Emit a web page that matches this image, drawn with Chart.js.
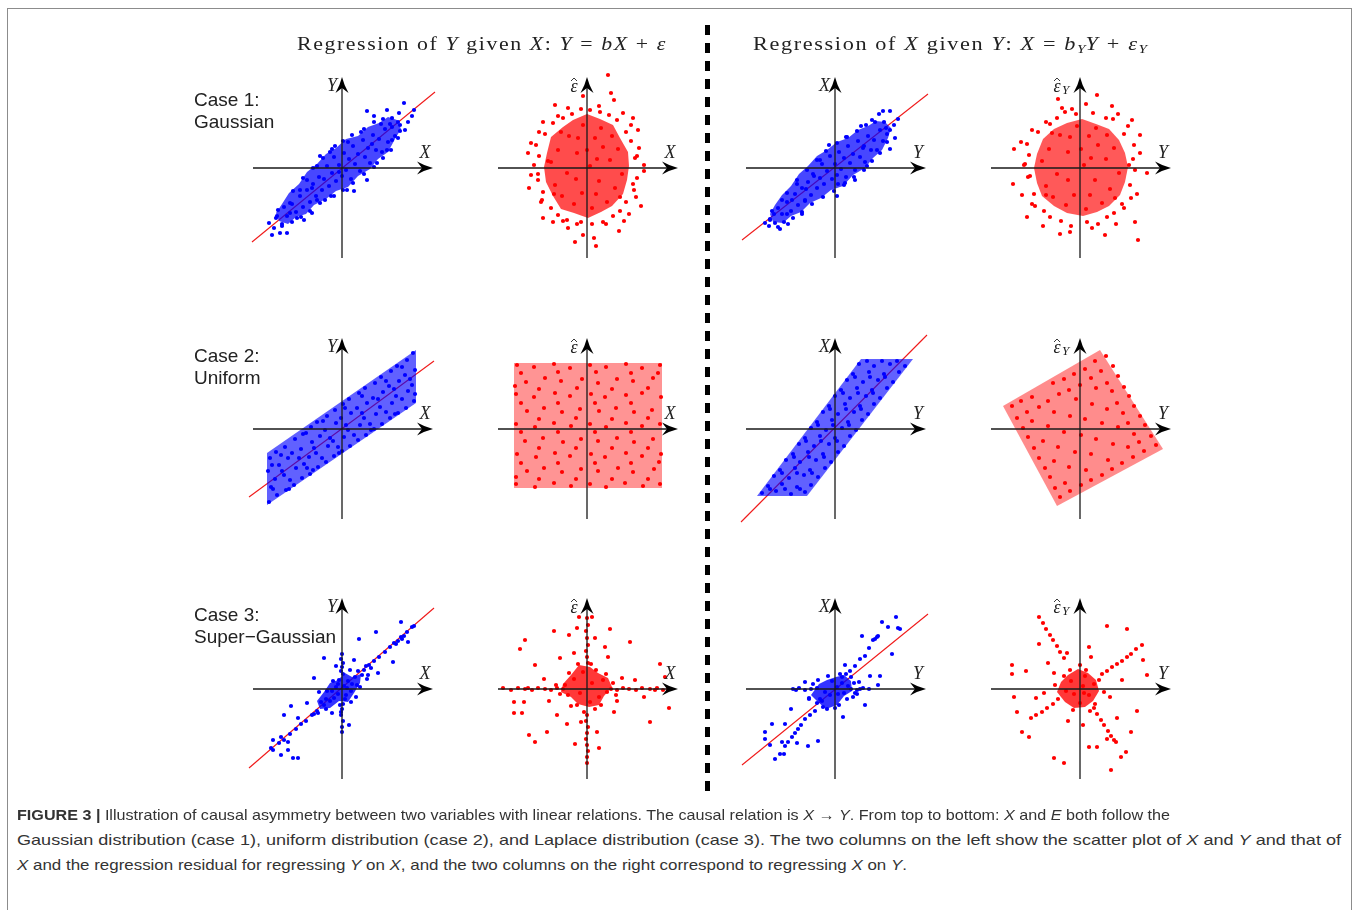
<!DOCTYPE html>
<html>
<head>
<meta charset="utf-8">
<script src="https://cdn.jsdelivr.net/npm/chart.js@4.4.1/dist/chart.umd.min.js"></script>
<style>
  body { margin:0; width:1358px; height:910px; overflow:hidden; background:#fff; position:relative; font-family:"Liberation Sans", Arial, sans-serif; }
  #frame { position:absolute; left:7px; top:8px; width:1343px; height:930px; border:1.5px solid #8c8c8c; border-bottom:none; }
  .panel { position:absolute; width:240px; height:240px; }
  .case { position:absolute; left:194px; font-size:19px; line-height:22px; color:#222; white-space:pre; }
  .title { position:absolute; top:34px; font-family:"Liberation Serif", serif; font-size:19px; line-height:19px; letter-spacing:1.4px; color:#222; white-space:nowrap; transform-origin:left top; }
  .title sub { font-size:13px; line-height:0; vertical-align:-3px; letter-spacing:0; }
  .cap { position:absolute; left:17px; font-size:15px; line-height:15px; color:#333; white-space:nowrap; transform-origin:left top; }
  #divider { position:absolute; left:705px; top:25px; width:4.5px; height:768px;
    background:repeating-linear-gradient(to bottom, #000 0px, #000 10px, transparent 10px, transparent 18px); }
</style>
</head>
<body>
<div id="frame"></div>
<div id="divider"></div>

<script>
// ---- data (units: each axis runs from -9 to 9) ----
const caseLabels = ['Case 1:\nGaussian', 'Case 2:\nUniform', 'Case 3:\nSuper\u2212Gaussian'];
const columnTitles = [
  'Regression of <i>Y</i> given <i>X</i>: <i>Y</i> = <i>bX</i> + <i>\u03b5</i>',
  'Regression of <i>X</i> given <i>Y</i>: <i>X</i> = <i>b<sub>Y</sub>Y</i> + <i>\u03b5<sub>Y</sub></i>'
];
const xAxisNames = ['X', 'X', 'Y', 'Y'];
const yAxisNames = ['Y', 'eps', 'X', 'epsY'];

// case 1: Gaussian
const gaussYX = [[-5.5,-4.8],[-5.0,-3.6],[-4.6,-4.4],[-4.2,-2.8],[-3.9,-3.9],[-3.5,-2.2],[-3.2,-3.4],[-2.9,-1.6],[-2.6,-2.8],[-2.3,-0.9],[-2.0,-2.2],[-1.8,-1.1],[-1.5,0.2],[-1.3,-1.8],[-1.0,-0.5],[-0.8,1.1],[-0.6,-1.3],[-0.3,0.3],[0.0,-0.8],[0.2,1.5],[0.4,-0.2],[0.7,0.9],[0.9,-1.1],[1.1,2.2],[1.3,0.4],[1.6,1.4],[1.8,-0.3],[2.1,2.8],[2.3,1.1],[2.6,2.0],[2.8,0.5],[3.1,3.3],[3.4,1.8],[3.7,2.9],[4.0,1.6],[4.3,3.9],[4.6,2.6],[5.0,4.1],[5.3,3.2],[5.6,4.6],
  [-6.6,-5.0],[-5.8,-3.9],[-4.9,-2.3],[-3.9,-1.0],[-2.9,0.0],[-1.9,1.0],[-1.0,1.9],[0.1,2.7],[1.0,3.3],[2.2,3.9],[3.2,4.6],[4.1,4.9],[5.0,5.0],[5.8,4.3],[5.6,3.0],[4.9,1.8],[4.1,1.0],[3.2,0.1],[2.2,-0.6],[1.1,-1.5],[0.1,-2.2],[-1.1,-2.8],[-2.2,-3.5],[-3.2,-4.3],[-4.1,-4.9],[-5.0,-5.4],[-6.0,-5.6],[-6.4,-4.2],[4.8,4.4],[3.0,2.4],[-3.0,-2.0],[-0.3,-0.4],
  [6.2,6.5],[7.2,5.8],[7.0,5.2],[4.5,5.8],[2.5,5.7],[3.2,5.2],[5.7,5.5],[6.3,3.8],[5.8,3.7],[5.0,2.8],[4.5,1.8],[3.5,0.5],[2.5,-1.2],[1.2,-2.3],[0.5,-2.2],[-0.7,2.2],[-7.0,-6.7],[-6.2,-6.5],[-5.5,-6.5],[-7.3,-5.5],[-6.5,-4.8],[-5.2,-4.5],[-4.5,-5.0],[-3.8,-5.2],[-3.0,-4.5],[-5.2,-3.5],[-4.2,-2.2],[-3.5,-1.2],[-2.5,-3.2],[-1.7,-3.2],[-0.8,-2.8],[-2.5,0.2],[-2.2,1.2],[-6.0,-5.8],[-6.8,-6.0],[1.9,3.6],[0.6,2.6],[-1.2,1.6],[3.9,4.4],[6.6,4.6]];
const gaussYXCore = [[-6.3,-5.3],[-5.4,-5.6],[-4.6,-4.9],[-3.6,-4.6],[-2.8,-3.7],[-1.6,-3.1],[-0.6,-2.3],[0.6,-1.9],[1.6,-0.8],[2.8,-0.1],[3.6,0.9],[4.6,1.6],[5.3,2.9],[5.9,3.9],[5.5,4.8],[4.6,5.1],[3.7,4.5],[2.6,4.1],[1.6,3.2],[0.4,2.9],[-0.6,2.0],[-1.6,1.4],[-2.5,0.4],[-3.5,-0.4],[-4.3,-1.6],[-5.3,-2.5],[-6.0,-3.6],[-6.6,-4.5]];
const gaussYXFit = [[-9,-7.4],[9.3,7.6]];

const gaussResX = [[0.3,0.2],[-1.0,1.5],[1.2,-1.3],[-2.0,-0.5],[2.3,0.8],[-0.5,-2.5],[0.8,3.0],[-1.8,3.2],[2.8,-2.0],[-2.9,1.8],[1.6,2.1],[-1.3,-3.6],[3.1,1.9],[-3.2,-1.7],[0.5,-4.0],[-0.4,4.3],[2.0,-3.4],[-2.5,-2.8],[1.4,4.0],[3.5,-0.6],[-3.6,0.6],[0.0,1.8],[-1.1,-1.1],[1.0,0.9],[-0.9,3.0],[2.5,3.2],[-2.6,3.6],[3.3,-2.9],[-3.3,-2.6],[0.9,-2.6],
  [4.8,1.0],[4.6,-1.6],[3.9,3.6],[2.2,5.3],[-0.6,5.9],[-2.4,5.0],[-4.2,3.4],[-4.8,1.2],[-4.9,-0.6],[-4.4,-2.4],[-3.6,-4.0],[-2.0,-5.2],[0.5,-5.6],[2.6,-4.8],[3.9,-3.4],[5.0,-1.0],[5.2,2.0],[4.4,4.3],[1.3,5.6],[-1.5,5.4],[-3.4,4.5],[-5.3,0.3],[-4.6,-3.4],[-1.0,-5.6],[1.6,-5.4],[3.3,-4.3],[4.9,-2.9],[-2.9,-4.7],[3.0,4.8],[-5.1,2.3],
  [2.1,9.3],[2.4,7.5],[-0.4,7.2],[-2.9,5.2],[-5.6,2.5],[-5.9,1.5],[-5.6,-0.7],[-5.8,-2.0],[-4.4,-5.0],[-1.9,-6.0],[-0.4,-6.7],[0.9,-7.8],[0.7,-7.0],[3.2,-6.3],[3.7,-5.3],[5.4,-3.8],[5.7,0.3],[5.7,-0.3],[5.1,3.8],[4.4,2.7],[3.6,5.5],[2.7,6.8],[-1.9,6.0],[-3.9,0.7],[-4.8,3.6],[-4.5,-3.2],[4.7,-2.2],[-3.4,-5.4],[1.9,-5.6],[4.6,5.0],[-1.2,-7.4],[-4.9,-1.2],[5.0,1.2],[-3.2,6.3],[1.2,6.2],[-4.4,4.6],[4.2,-4.6],[0.3,5.8],[-2.4,-5.3],[-0.6,-5.4]];
const gaussResXCore = [[4.2,0.2],[4.1,1.6],[3.3,3.0],[2.6,4.3],[1.3,4.9],[0,5.4],[-1.4,4.8],[-2.4,4.1],[-3.6,3.1],[-4.0,1.5],[-4.3,0.1],[-4.1,-1.4],[-3.4,-2.8],[-2.6,-4.1],[-1.3,-4.5],[0.1,-5.0],[1.4,-4.4],[2.5,-3.8],[3.6,-2.6],[4.0,-1.2]];

const gaussXY = [[-5.3,-4.6],[-4.8,-3.4],[-4.4,-4.3],[-4.0,-2.6],[-3.7,-3.7],[-3.3,-2.0],[-3.0,-3.3],[-2.7,-1.4],[-2.4,-2.7],[-2.1,-0.8],[-1.8,-2.0],[-1.5,-1.0],[-1.3,0.4],[-1.1,-1.6],[-0.8,-0.3],[-0.5,1.2],[-0.3,-1.1],[0.0,0.4],[0.2,-0.7],[0.4,1.6],[0.6,-0.1],[0.9,1.0],[1.1,-0.9],[1.3,2.2],[1.5,0.5],[1.8,1.4],[2.0,-0.2],[2.3,2.7],[2.5,1.1],[2.8,2.0],[3.0,0.6],[3.3,3.2],[3.6,1.8],[3.9,2.8],[4.2,1.8],[4.5,3.8],[4.8,2.7],[5.1,4.0],
  [-6.5,-5.1],[-5.7,-4.0],[-4.8,-2.5],[-3.8,-1.2],[-2.8,-0.2],[-1.8,0.8],[-0.9,1.7],[0.2,2.5],[1.1,3.1],[2.2,3.7],[3.1,4.3],[4.0,4.6],[4.9,4.6],[5.5,3.8],[5.2,2.6],[4.5,1.5],[3.7,0.7],[2.9,-0.2],[1.9,-0.9],[0.9,-1.7],[-0.1,-2.3],[-1.2,-2.9],[-2.3,-3.6],[-3.3,-4.4],[-4.2,-5.0],[-5.1,-5.4],[-6.0,-5.5],[-6.3,-4.3],[2.9,2.2],[-2.9,-2.1],
  [4.8,5.7],[5.5,5.7],[6.3,4.9],[5.5,1.9],[3.7,4.8],[0.3,-1.6],[-5.7,-5.9],[-6.5,-5.2],[-5.5,-6.1],[-4.7,-5.6],[-4.8,-4.6],[-5.3,-3.2],[-4.3,-3.2],[-3.3,-4.6],[-3.0,-3.2],[-6.6,-5.8],[-7.0,-5.5],[-2.2,-0.6],[-1.5,0.8],[2.0,-1.2],[3.2,0.2],[1.0,-1.5],[4.4,5.4],[2.6,4.2],[0.2,-2.8],[5.9,4.3],[5.2,3.4],[-6.1,-4.6],[-3.8,-1.6],[1.2,3.1],[-0.6,2.3],[6.0,3.0]];
const gaussXYCore = [[-6.2,-5.4],[-5.2,-5.5],[-4.4,-4.8],[-3.4,-4.4],[-2.5,-3.5],[-1.4,-3.0],[-0.4,-2.2],[0.8,-1.8],[1.8,-0.7],[3.0,0.0],[3.8,1.0],[4.7,1.8],[5.3,3.0],[5.6,4.0],[5.0,4.6],[4.1,4.7],[3.3,4.2],[2.3,3.8],[1.3,3.0],[0.2,2.6],[-0.8,1.8],[-1.8,1.2],[-2.7,0.2],[-3.6,-0.6],[-4.4,-1.8],[-5.3,-2.7],[-6.0,-3.7],[-6.5,-4.6]];
const gaussXYFit = [[-9.3,-7.2],[9.3,7.4]];

const gaussResY = [[0.4,0.3],[-1.2,1.6],[1.5,-1.2],[-2.3,-0.6],[2.6,0.9],[-0.6,-2.7],[0.9,3.2],[-2.0,3.3],[3.0,-2.1],[-3.1,1.9],[1.8,2.3],[-1.4,-3.7],[3.4,2.0],[-3.4,-1.8],[0.6,-4.1],[-0.3,4.2],[2.2,-3.5],[-2.7,-2.9],[1.6,4.0],[3.9,-0.5],[-3.8,0.7],[0.1,1.9],[-1.2,-1.2],[1.1,1.0],[-1.0,3.1],[2.7,3.3],[-2.8,3.5],[3.5,-3.0],[-3.4,-2.7],[1.0,-2.7],
  [5.3,0.9],[5.0,-1.7],[4.4,3.4],[2.6,5.0],[-0.4,5.4],[-2.3,5.0],[-4.2,3.6],[-5.1,1.3],[-5.2,-0.9],[-4.6,-2.6],[-3.6,-4.3],[-1.9,-5.3],[0.7,-5.4],[2.7,-4.9],[4.2,-3.6],[5.5,-0.2],[5.4,2.3],[4.8,4.2],[1.3,5.5],[-1.5,5.6],[-3.4,4.6],[-5.6,0.3],[-4.8,-3.6],[-0.9,-5.8],[1.8,-5.6],[3.4,-4.5],[5.1,-3.0],[-3.0,-4.9],[3.3,4.9],[-5.3,2.4],
  [-6.6,1.9],[6.7,-0.5],[-2.2,6.9],[1.7,7.3],[-1.0,-6.4],[2.5,-6.7],[5.8,-7.2],[5.5,-5.4],[-5.3,-4.9],[-6.7,-1.6],[-5.8,-2.7],[5.2,4.8],[3.8,5.4],[-0.8,5.9],[-3.0,4.4],[-4.8,3.8],[-5.5,0.4],[6.0,1.5],[5.7,-2.6],[0.6,6.4],[-3.7,-5.8],[1.2,-6.0],[3.6,-5.6],[-2.0,-6.6],[6.0,3.3],[-5.9,2.6],[4.4,-4.0],[-1.8,6.0],[3.2,6.2],[-4.5,-3.8],[4.9,0.3],[-5.0,-0.8]];
const gaussResYCore = [[4.8,0.1],[4.5,1.5],[3.9,2.8],[2.9,3.9],[1.6,4.4],[0.2,4.9],[-1.3,4.5],[-2.6,3.9],[-3.7,2.9],[-4.3,1.4],[-4.6,0],[-4.3,-1.5],[-3.8,-2.8],[-2.6,-3.8],[-1.3,-4.5],[0.3,-4.8],[1.7,-4.4],[2.9,-3.8],[4.0,-2.7],[4.5,-1.4]];

// case 2: uniform
const unifYX = [[-7.3,-7.3],[-7.1,-5.8],[-7.4,-4.2],[-7.2,-2.9],[-6.5,-6.6],[-6.7,-5.0],[-6.3,-3.6],[-6.6,-2.3],[-5.6,-6.1],[-5.8,-4.6],[-5.4,-2.9],[-5.7,-1.8],[-4.8,-5.6],[-4.6,-3.9],[-5.0,-2.4],[-4.7,-1.0],[-4.0,-4.9],[-3.8,-3.5],[-4.1,-2.0],[-3.9,-0.5],[-3.2,-4.5],[-3.3,-2.8],[-3.0,-1.3],[-3.1,0.2],[-2.4,-3.8],[-2.6,-2.4],[-2.2,-0.7],[-2.5,0.7],[-1.6,-3.3],[-1.4,-1.7],[-1.7,-0.1],[-1.5,1.3],[-0.8,-2.7],[-0.9,-1.2],[-0.6,0.6],[-0.7,1.9],[0.0,-2.2],[0.2,-0.8],[-0.1,1.1],[0.1,2.5],[0.8,-1.7],[0.6,-0.1],[0.9,1.6],[0.7,3.0],[1.6,-1.1],[1.8,0.4],[1.5,2.1],[1.7,3.6],[2.4,-0.6],[2.2,1.1],[2.5,2.6],[2.3,4.1],[3.2,0.0],[3.4,1.5],[3.1,3.1],[3.3,4.6],[4.0,0.5],[3.8,2.2],[4.1,3.7],[3.9,5.2],[4.8,1.1],[5.0,2.6],[4.7,4.3],[4.9,5.8],[5.6,1.6],[5.4,3.3],[5.7,4.8],[5.5,6.3],[6.4,2.1],[6.6,3.8],[6.3,5.4],[6.5,6.9],[7.2,2.8],[7.0,4.4],[7.3,5.9],[7.1,7.6],
  [-6.9,-6.0],[-6.0,-4.2],[-5.2,-5.1],[-4.3,-2.9],[-3.5,-3.9],[-2.8,-1.9],[-2.0,-2.9],[-1.2,-0.9],[-0.4,-1.8],[0.4,0.4],[1.2,-0.6],[2.0,1.6],[2.8,0.5],[3.6,3.0],[4.4,1.7],[5.2,4.0],[6.0,3.0],[6.8,5.0],[-7.0,-3.6],[-6.1,-2.6],[-3.6,-0.4],[-1.9,0.8],[0.3,2.1],[2.0,3.3],[4.4,4.8],[6.0,6.2],[-5.3,-6.0],[-2.9,-4.1],[-0.3,-2.4],[2.9,-0.1],[5.3,1.5],[7.3,3.5]];
const unifYXCore = [[-7.5,-7.6],[7.4,2.6],[7.4,7.9],[-7.5,-2.4]];
const unifYXFit = [[-9.3,-6.8],[9.2,6.8]];

const unifResX = [[-7.0,6.4],[-5.3,6.2],[-3.3,6.5],[-1.7,6.1],[0.3,6.4],[1.9,6.2],[3.9,6.5],[5.5,6.1],[7.3,6.4],
  [-6.1,4.7],[-4.2,5.1],[-2.6,4.8],[-0.5,5.0],[1.1,4.6],[3.0,5.0],[4.6,4.8],[6.6,5.1],
  [-7.1,3.5],[-5.3,3.2],[-3.2,3.6],[-1.7,3.3],[0.4,3.5],[1.8,3.2],[3.9,3.4],[5.5,3.6],[7.4,3.2],
  [-6.0,1.8],[-4.3,2.1],[-2.5,1.7],[-0.7,2.0],[1.2,1.8],[2.9,2.1],[4.7,1.7],[6.5,1.9],
  [-7.1,0.5],[-5.2,0.2],[-3.3,0.6],[-1.6,0.3],[0.3,0.5],[1.9,0.2],[3.9,0.6],[5.5,0.3],[7.3,0.5],
  [-6.2,-1.2],[-4.4,-0.9],[-2.4,-1.3],[-0.6,-1.0],[1.1,-1.2],[3.0,-0.9],[4.7,-1.3],[6.6,-1.0],
  [-7.0,-2.5],[-5.1,-2.8],[-3.2,-2.4],[-1.7,-2.7],[0.4,-2.5],[1.8,-2.8],[3.9,-2.4],[5.5,-2.7],[7.4,-2.5],
  [-6.0,-4.2],[-4.3,-3.9],[-2.5,-4.3],[-0.6,-4.0],[1.1,-4.2],[3.1,-3.9],[4.6,-4.3],[6.7,-4.0],
  [-7.1,-5.5],[-5.2,-5.8],[-3.3,-5.4],[-1.6,-5.7],[0.3,-5.5],[1.9,-5.8],[3.8,-5.4],[5.6,-5.7],[7.3,-5.5],
  [-6.6,5.6],[-4.8,4.0],[-2.9,5.7],[-1.0,4.1],[0.9,5.7],[2.5,4.0],[4.4,5.6],[6.1,4.1],[-6.6,2.6],[-4.8,1.0],[-2.9,2.6],[-1.1,1.1],[0.8,2.6],[2.5,1.0],[4.4,2.6],[6.1,1.1],[-6.6,-0.3],[-4.8,-1.9],[-2.9,-0.3],[-1.1,-1.9],[0.8,-0.3],[2.5,-1.9],[4.4,-0.3],[6.1,-1.9],[-6.6,-3.4],[-4.8,-5.0],[-2.9,-3.4],[-1.1,-5.0],[0.8,-3.4],[2.5,-5.0],[4.4,-3.4],[6.1,-5.0],[7.2,-3.3],[-7.1,-4.8],[7.1,5.6],[-7.2,4.3]];
const unifResXCore = [[-7.3,-5.9],[7.5,-5.9],[7.5,6.6],[-7.3,6.6]];

const unifXY = [[-7.3,-6.4],[-5.9,-6.2],[-4.4,-6.5],[-3.0,-6.3],[-6.7,-5.7],[-5.3,-5.5],[-3.8,-5.8],[-2.4,-5.6],[-6.1,-4.7],[-4.6,-4.9],[-3.1,-4.6],[-1.7,-4.8],[-5.5,-4.1],[-4.0,-3.9],[-2.5,-4.1],[-1.0,-3.9],[-4.9,-3.1],[-3.5,-3.3],[-1.9,-3.1],[-0.4,-3.3],[-4.2,-2.5],[-2.7,-2.3],[-1.2,-2.5],[0.3,-2.3],[-3.6,-1.5],[-2.1,-1.7],[-0.6,-1.5],[0.9,-1.7],[-3.0,-0.9],[-1.5,-0.7],[0.0,-0.9],[1.5,-0.7],[-2.4,0.1],[-0.9,-0.1],[0.7,0.1],[2.1,-0.1],[-1.8,0.7],[-0.3,0.9],[1.3,0.7],[2.7,0.9],[-1.2,1.7],[0.3,1.5],[1.9,1.7],[3.3,1.5],[-0.6,2.3],[1.0,2.5],[2.5,2.3],[3.9,2.5],[0.0,3.3],[1.5,3.1],[3.1,3.3],[4.5,3.1],[0.6,3.9],[2.2,4.1],[3.7,3.9],[5.2,4.1],[1.2,4.9],[2.8,4.7],[4.3,4.9],[5.8,4.7],[1.8,5.5],[3.4,5.7],[4.9,5.5],[6.4,5.7],[2.4,6.5],[3.9,6.3],[5.5,6.5],[7.0,6.3],
  [-6.5,-6.0],[-5.0,-6.0],[-3.5,-6.0],[-5.3,-4.4],[-3.8,-4.4],[-2.3,-4.4],[-4.1,-2.8],[-2.6,-2.8],[-1.1,-2.8],[-2.9,-1.2],[-1.4,-1.2],[0.2,-1.2],[-1.7,0.4],[-0.2,0.4],[1.4,0.4],[-0.5,2.0],[1.1,2.0],[2.6,2.0],[0.8,3.6],[2.3,3.6],[3.8,3.6],[2.0,5.2],[3.5,5.2],[5.0,5.2],[3.2,6.8],[4.7,6.8],[6.2,6.8]];
const unifXYCore = [[-7.8,-6.7],[-2.8,-6.7],[7.8,7.0],[2.6,7.0]];
const unifXYFit = [[-9.4,-9.3],[9.2,9.4]];

const unifResY = [[-2.0,-6.8],[0.1,-5.6],[2.2,-4.6],[4.2,-3.4],[6.4,-2.2],[7.6,-1.6],[-3.0,-4.8],[-1.1,-3.8],[1.1,-2.5],[3.3,-1.5],[5.4,-0.5],[6.5,0.4],[-4.1,-2.9],[-2.2,-1.8],[0.1,-0.6],[2.2,0.6],[4.3,1.6],[5.4,2.3],[-5.2,-0.8],[-3.2,0.3],[-1.0,1.3],[1.2,2.5],[3.2,3.8],[4.4,4.2],[-6.3,1.1],[-4.1,2.2],[-2.1,3.5],[0.0,4.4],[2.1,5.8],[3.3,6.3],[-6.8,2.3],[-4.8,3.2],[-2.7,4.6],[-0.6,5.5],[1.5,6.8],[2.6,7.3],
  [-1.5,-5.4],[0.6,-4.1],[2.8,-3.1],[4.8,-1.8],[-2.6,-3.2],[-0.5,-2.3],[1.6,-1.0],[3.8,0.2],[-3.7,-1.2],[-1.6,-0.3],[0.5,1.0],[2.7,2.0],[-4.8,0.8],[-2.6,1.7],[-0.4,3.0],[1.6,4.1],
  [-5.9,2.8],[-1.6,5.0],[0.5,6.0],[7.1,-0.7],[6.0,1.3],[4.9,3.3],[3.8,5.3],[-2.5,-5.9],[-3.5,-3.9],[-4.6,-1.9],[-5.7,0.1],[-1.0,-6.2],[1.1,-5.1],[3.2,-4.0],[5.3,-2.8],[5.9,-1.3],[4.8,0.6],[3.7,2.6],[2.7,4.6],[-5.3,1.7],[-3.2,2.8],[-1.1,3.9],[1.1,5.1]];
const unifResYCore = [[-7.7,2.3],[2,7.9],[8.3,-2],[-2.3,-7.7]];

// case 3: super-Gaussian (Laplace)
const lapYX = [[0.0,3.5],[-0.1,3.0],[0.1,2.6],[0.0,2.2],[-0.1,1.8],[0.1,-1.5],[0.0,-2.0],[-0.1,-2.6],[0.1,-3.2],[0.0,-3.8],[0.0,-4.3],[0.1,1.5],[-0.1,-2.3],
  [-6.9,-6.1],[-6.3,-5.4],[-5.8,-5.1],[-5.2,-4.5],[-4.6,-4.0],[-4.1,-3.5],[-3.6,-3.2],[-3.0,-2.6],[-2.5,-2.2],[2.2,1.9],[2.7,2.4],[3.2,2.8],[3.7,3.2],[4.3,3.7],[4.8,4.2],[5.2,4.6],[5.6,4.8],[5.9,5.2],[6.2,5.3],[6.5,5.7],[7.0,6.2],[5.4,4.5],[6.0,5.0],
  [5.9,6.7],[7.2,6.3],[6.6,4.7],[5.1,2.7],[3.4,5.7],[1.7,5.0],[-1.8,3.1],[-2.8,1.1],[-2.3,-0.3],[-5.1,-1.7],[-5.8,-2.6],[-4.4,-2.9],[-6.1,-4.8],[-6.9,-5.1],[-5.4,-5.3],[-7.1,-5.9],[-6.1,-6.6],[-5.4,-6.1],[-4.9,-6.9],[-4.4,-6.9],[0.9,-1.3],[2.6,1.4],[2.9,2.1],[-0.6,2.3],[1.2,2.9],[-1.0,-2.4],[0.7,-3.6],[3.6,1.6],[-3.5,-1.4],[1.5,0.4],[-1.5,-0.2],
  [0.2,0.3],[-0.4,-0.5],[0.6,0.8],[-0.8,-0.9],[1.0,0.5],[-0.3,0.9],[0.4,-0.6],[-1.2,-1.2],[1.3,1.2],[-0.6,0.2],[0.9,-0.2],[-1.6,-1.0],[-1.8,-1.6],[2.0,1.4],[-2.1,-1.3],
  [1.8,0.2],[-2.4,-2.4],[0.8,1.9],[-0.9,0.8],[1.4,-0.8],[-1.6,-2.0],[2.4,2.3],[-0.2,-1.6],[0.5,0.1],[-0.4,0.5],[-1.0,-0.2],[0.3,-1.0],[1.6,1.8],[-2.8,-2.5],[2.5,1.0]];
const lapYXCore = [[-2.2,-2.0],[-1.2,-1.9],[-0.3,-1.2],[0.6,-1.3],[1.2,-0.4],[1.8,0.6],[1.9,1.5],[1.0,1.2],[0.3,1.6],[-0.4,0.9],[-1.2,0.6],[-1.8,-0.3],[-2.5,-1.2]];
const lapYXFit = [[-9.3,-7.9],[9.2,8.1]];

const lapResX = [[-8.4,0.1],[-7.6,-0.1],[-6.9,0.1],[-6.2,0.0],[-5.5,-0.1],[-4.9,0.1],[-4.2,0.0],[-3.6,-0.1],[-3.0,0.1],[-2.4,0.0],[2.4,0.0],[3.0,-0.1],[3.6,0.1],[4.2,0.0],[4.9,-0.1],[5.5,0.1],[6.3,0.0],[7.0,0.1],[7.6,-0.1],[8.1,0.0],[6.8,-0.1],[-5.9,0.1],
  [0.0,7.1],[0.1,6.4],[-0.1,5.8],[0.0,5.1],[0.1,4.4],[-0.1,3.8],[0.0,3.2],[0.1,2.6],[0.0,-2.6],[-0.1,-3.2],[0.1,-3.8],[0.0,-4.4],[-0.1,-5.0],[0.0,-5.6],[0.1,-6.2],[0.0,-6.8],[0.0,-7.4],
  [0.5,0.6],[-0.7,-0.4],[1.2,-0.8],[-1.3,1.0],[0.3,-1.3],[-0.4,1.7],[1.6,0.9],[-1.9,-0.6],[0.9,1.9],[-1.0,-1.6],[2.0,-0.3],[-2.2,0.4],
  [2.6,0.6],[-2.7,-0.5],[0.4,2.5],[-0.3,-2.3],[1.9,1.5],[-1.6,-1.7],[1.4,-1.6],[-1.8,1.6],[2.9,-0.6],[-3.1,0.4],[0.8,-2.0],[-0.9,2.5],
  [0.5,7.2],[-0.8,7.2],[-3.3,5.8],[-1.8,5.4],[-1.0,6.1],[2.3,6.0],[4.3,4.7],[-6.2,4.9],[-6.7,4.0],[-5.2,2.4],[-2.7,3.1],[0.8,5.1],[1.8,4.2],[7.3,2.5],[7.8,1.2],[8.2,-1.9],[6.3,-3.3],[-7.3,-1.3],[-7.3,-2.4],[-6.5,-2.4],[-6.3,-1.3],[-5.8,-4.6],[-5.2,-5.3],[-4.0,-4.3],[-3.0,-2.6],[-1.2,-5.5],[1.2,-5.9],[1.0,-4.3],[2.7,-2.3],[3.5,1.1],[4.8,0.9],[-4.3,1.0],[-3.8,-1.2],[3.0,-1.2],[-2.0,-3.5],[2.1,3.2],[-1.3,3.6],[5.7,-0.8],[-0.6,-3.3]];
const lapResXCore = [[-2.4,0.5],[-1.6,1.4],[-0.8,2.4],[0.3,2.2],[1.1,1.6],[2.1,1.1],[2.5,0.2],[1.7,-0.7],[1.2,-1.6],[0.2,-1.8],[-0.9,-1.5],[-1.6,-0.8],[-2.6,-0.3]];

const lapXY = [[-4.2,0.0],[-3.6,0.1],[-3.0,-0.1],[-2.4,0.0],[-1.8,0.1],[1.6,0.0],[2.2,-0.1],[2.8,0.1],[3.4,0.0],[-3.9,-0.1],[2.5,0.0],
  [6.1,7.2],[6.3,6.1],[5.3,6.2],[4.7,6.7],[4.3,5.3],[3.8,4.9],[4.0,5.0],[4.2,5.2],[2.7,5.3],[3.0,3.3],[2.0,2.3],[1.5,1.8],[0.7,1.2],[-1.3,-1.2],[-2.0,-2.2],[-3.0,-3.0],[-3.7,-4.0],[-4.3,-4.8],[-4.7,-5.3],[2.5,3.0],[3.4,4.1],[1.1,1.5],[-2.5,-2.6],[-3.4,-3.6],[-4.0,-4.4],[-5.0,-5.7],
  [-7.0,-4.3],[-7.0,-5.0],[-6.5,-5.6],[-6.0,-7.0],[-5.5,-6.5],[-5.1,-6.5],[-6.3,-3.5],[-5.3,-5.3],[-1.7,-5.2],[-2.7,-5.7],[0.8,-2.8],[3.0,-1.6],[4.3,0.4],[4.5,1.3],[3.5,1.3],[5.7,3.5],[6.5,6.0],[-1.7,0.9],[-3.0,0.7],[-2.6,-1.0],[1.8,-0.8],[2.4,0.7],[-0.8,-2.0],[0.4,-1.6],[-4.4,-2.0],[-5.0,-3.5],[1.0,2.4],[-3.8,-5.4],[2.2,-0.5],
  [0.2,0.2],[-0.5,-0.6],[0.7,0.6],[-1.0,-0.3],[0.9,-0.4],[-0.3,0.8],[1.3,0.3],[-1.5,-1.0],
  [1.9,0.6],[-2.6,-0.9],[0.5,1.5],[-1.2,-1.8],[1.2,-1.0],[-0.7,1.3],[2.0,-0.4],[-2.2,0.5],[0.0,-1.9],[1.6,1.2],[-1.8,-1.4],[0.3,-0.5]];
const lapXYCore = [[-2.4,-0.6],[-1.7,-1.3],[-0.9,-2.0],[0.2,-1.6],[0.9,-0.7],[1.7,-0.2],[1.6,0.8],[0.9,1.4],[0.1,1.2],[-0.8,0.9],[-1.6,0.5]];
const lapXYFit = [[-9.3,-7.6],[9.3,7.5]];

const lapResY = [[-4.1,7.2],[-3.7,6.6],[-3.4,6.0],[-3.0,5.4],[-2.7,4.9],[-2.3,4.3],[-2.0,3.7],[-1.6,3.1],[1.4,-1.9],[1.7,-2.5],[2.1,-3.1],[2.4,-3.6],[2.8,-4.2],[3.1,-4.7],[3.4,-5.1],[3.6,-5.3],
  [-4.9,-2.9],[-4.4,-2.6],[-3.8,-2.3],[-3.3,-1.9],[-2.7,-1.5],[2.2,1.5],[2.7,1.8],[3.2,2.2],[3.7,2.5],[4.2,2.8],[4.7,3.2],[5.1,3.5],[5.6,4.0],
  [2.7,6.3],[4.7,6.0],[6.2,4.4],[6.3,2.9],[6.7,1.4],[-6.8,2.4],[-6.8,1.5],[-5.4,1.8],[-4.1,4.5],[-6.6,-0.8],[-6.3,-2.3],[-5.8,-4.3],[-5.1,-4.8],[-2.6,-6.9],[-1.6,-7.4],[0.9,-5.8],[1.7,-5.8],[2.7,-5.0],[4.1,-6.8],[4.6,-6.3],[3.1,-8.1],[5.7,-2.2],[5.1,-4.3],[3.7,-2.9],[0.9,4.2],[1.1,3.2],[-1.3,3.6],[-2.6,1.6],[-3.6,-0.4],[-1.2,-3.2],[3.0,-0.8],[4.2,0.9],[-4.4,-0.9],[0.3,-3.6],[-3.2,2.6],
  [0.3,0.3],[-0.6,-0.5],[0.9,-0.6],[-0.9,0.8],[0.5,1.3],[-1.4,-0.2],[1.4,0.5],[0.0,-1.4],
  [1.9,0.9],[-2.2,-1.0],[0.6,1.9],[-0.7,-2.1],[1.5,-1.5],[-1.6,1.3],[2.4,-0.3],[-2.5,0.4],[0.0,2.4],[1.0,-2.2],[-1.0,1.9],[0.4,-0.4]];
const lapResYCore = [[-2.3,-0.3],[-1.5,-1.3],[-0.6,-1.9],[0.5,-1.8],[1.3,-1.2],[1.9,-0.2],[1.6,0.9],[0.8,1.6],[-0.2,2.0],[-1.2,1.4],[-1.9,0.7]];

// ---- layout ----
const colCenters = [342, 587, 835, 1080];
const rowCenters = [168, 429, 689];
const BLUE = '#0000ff', RED = '#ff0000';

const panelRows = [
  [ { pts: gaussYX, core: gaussYXCore, fit: gaussYXFit, fill: 'rgba(0,0,255,0.72)' },
    { pts: gaussResX, core: gaussResXCore, fill: 'rgba(255,0,0,0.7)' },
    { pts: gaussXY, core: gaussXYCore, fit: gaussXYFit, fill: 'rgba(0,0,255,0.72)' },
    { pts: gaussResY, core: gaussResYCore, fill: 'rgba(255,0,0,0.65)' } ],
  [ { pts: unifYX, core: unifYXCore, fit: unifYXFit, fill: 'rgba(0,0,255,0.62)' },
    { pts: unifResX, core: unifResXCore, fill: 'rgba(255,0,0,0.42)' },
    { pts: unifXY, core: unifXYCore, fit: unifXYFit, fill: 'rgba(0,0,255,0.62)' },
    { pts: unifResY, core: unifResYCore, fill: 'rgba(255,0,0,0.45)' } ],
  [ { pts: lapYX, core: lapYXCore, fit: lapYXFit, fill: 'rgba(0,0,255,0.8)' },
    { pts: lapResX, core: lapResXCore, fill: 'rgba(255,0,0,0.78)' },
    { pts: lapXY, core: lapXYCore, fit: lapXYFit, fill: 'rgba(0,0,255,0.8)' },
    { pts: lapResY, core: lapResYCore, fill: 'rgba(255,0,0,0.78)' } ]
];

const toXY = arr => arr.map(p => ({ x: p[0], y: p[1] }));

function arrowHead(ctx, x, y, ang) {
  ctx.save();
  ctx.translate(x, y);
  ctx.rotate(ang);
  ctx.beginPath();
  ctx.moveTo(0, 0);
  ctx.quadraticCurveTo(-8, -2, -16, -6.5);
  ctx.lineTo(-11, 0);
  ctx.lineTo(-16, 6.5);
  ctx.quadraticCurveTo(-8, 2, 0, 0);
  ctx.fill();
  ctx.restore();
}

function axesPlugin(xName, yName) {
  return {
    id: 'arrowAxes',
    afterDatasetsDraw(chart) {
      const ctx = chart.ctx, xs = chart.scales.x, ys = chart.scales.y;
      const x0 = xs.getPixelForValue(0), y0 = ys.getPixelForValue(0);
      const xl = xs.getPixelForValue(-8.9), xr = xs.getPixelForValue(9.1);
      const yb = ys.getPixelForValue(-9), yt = ys.getPixelForValue(9.1);
      ctx.save();
      ctx.strokeStyle = '#1a1a1a';
      ctx.fillStyle = '#000';
      ctx.lineWidth = 1.3;
      ctx.beginPath();
      ctx.moveTo(xl, y0); ctx.lineTo(xr - 10, y0);
      ctx.moveTo(x0, yb); ctx.lineTo(x0, yt + 10);
      ctx.stroke();
      arrowHead(ctx, xr, y0, 0);
      arrowHead(ctx, x0, yt, -Math.PI / 2);

      ctx.fillStyle = '#222';
      ctx.font = 'italic 18px "Liberation Serif", serif';
      ctx.textAlign = 'center';
      ctx.textBaseline = 'alphabetic';
      ctx.fillText(xName, xr - 8, y0 - 10);

      if (yName === 'eps' || yName === 'epsY') {
        const ex = yName === 'eps' ? x0 - 13 : x0 - 23;
        const by = yt + 15;
        ctx.fillText('\u03b5', ex, by);
        ctx.lineWidth = 0.9;
        ctx.strokeStyle = '#222';
        ctx.beginPath();
        ctx.moveTo(ex - 3, by - 11); ctx.lineTo(ex, by - 14); ctx.lineTo(ex + 3, by - 11);
        ctx.stroke();
        if (yName === 'epsY') {
          ctx.font = 'italic 13px "Liberation Serif", serif';
          ctx.textAlign = 'left';
          ctx.fillText('Y', ex + 5, by + 2);
        }
      } else {
        ctx.textAlign = 'right';
        ctx.fillText(yName, x0 - 5, yt + 14);
      }
      ctx.restore();
    }
  };
}

function drawPanel(p, cx, cy, xName, yName, color) {
  const cv = document.createElement('canvas');
  cv.width = 240; cv.height = 240;
  cv.className = 'panel';
  cv.style.left = (cx - 120) + 'px';
  cv.style.top = (cy - 120) + 'px';
  document.body.appendChild(cv);

  const datasets = [
    { data: toXY(p.core.concat([p.core[0]])), showLine: true, fill: 'shape', backgroundColor: p.fill,
      borderWidth: 0, borderColor: 'rgba(0,0,0,0)', pointRadius: 0, tension: 0, clip: false },
    { data: toXY(p.pts), pointRadius: 2.1, backgroundColor: color, borderColor: color, pointBorderWidth: 0, clip: false }
  ];
  if (p.fit) {
    datasets.push({ data: toXY(p.fit), showLine: true, borderColor: '#f01a1a', borderWidth: 1.1,
      pointRadius: 0, clip: false });
  }

  new Chart(cv, {
    type: 'scatter',
    data: { datasets },
    options: {
      responsive: false,
      animation: false,
      events: [],
      layout: { padding: 30 },
      scales: {
        x: { type: 'linear', min: -9, max: 9, display: false },
        y: { type: 'linear', min: -9, max: 9, display: false }
      },
      plugins: { legend: { display: false }, tooltip: { enabled: false } }
    },
    plugins: [axesPlugin(xName, yName)]
  });
}

panelRows.forEach((row, r) => {
  row.forEach((p, c) => {
    const color = c % 2 === 0 ? BLUE : RED;
    drawPanel(p, colCenters[c], rowCenters[r], xAxisNames[c], yAxisNames[c], color);
  });
});

// ---- text ----
function fitWidth(el, target) {
  const w = el.getBoundingClientRect().width;
  if (w > 0) el.style.transform = 'scaleX(' + (target / w) + ')';
}

const caseTops = [89, 345, 604];
caseLabels.forEach((t, i) => {
  const d = document.createElement('div');
  d.className = 'case';
  d.style.top = caseTops[i] + 'px';
  d.textContent = t;
  document.body.appendChild(d);
});

const titleLefts = [297, 753], titleWidths = [370, 394];
columnTitles.forEach((t, i) => {
  const d = document.createElement('div');
  d.className = 'title';
  d.style.left = titleLefts[i] + 'px';
  d.innerHTML = t;
  document.body.appendChild(d);
  fitWidth(d, titleWidths[i]);
});

const captionLines = [
  '<b>FIGURE 3 |</b> Illustration of causal asymmetry between two variables with linear relations. The causal relation is <i>X</i> \u2192 <i>Y</i>. From top to bottom: <i>X</i> and <i>E</i> both follow the',
  'Gaussian distribution (case 1), uniform distribution (case 2), and Laplace distribution (case 3). The two columns on the left show the scatter plot of <i>X</i> and <i>Y</i> and that of',
  '<i>X</i> and the regression residual for regressing <i>Y</i> on <i>X</i>, and the two columns on the right correspond to regressing <i>X</i> on <i>Y</i>.'
];
const captionWidths = [1153, 1324, 890];
captionLines.forEach((t, i) => {
  const d = document.createElement('div');
  d.className = 'cap';
  d.style.top = (807 + i * 25) + 'px';
  d.innerHTML = t;
  document.body.appendChild(d);
  fitWidth(d, captionWidths[i]);
});
</script>
</body>
</html>
